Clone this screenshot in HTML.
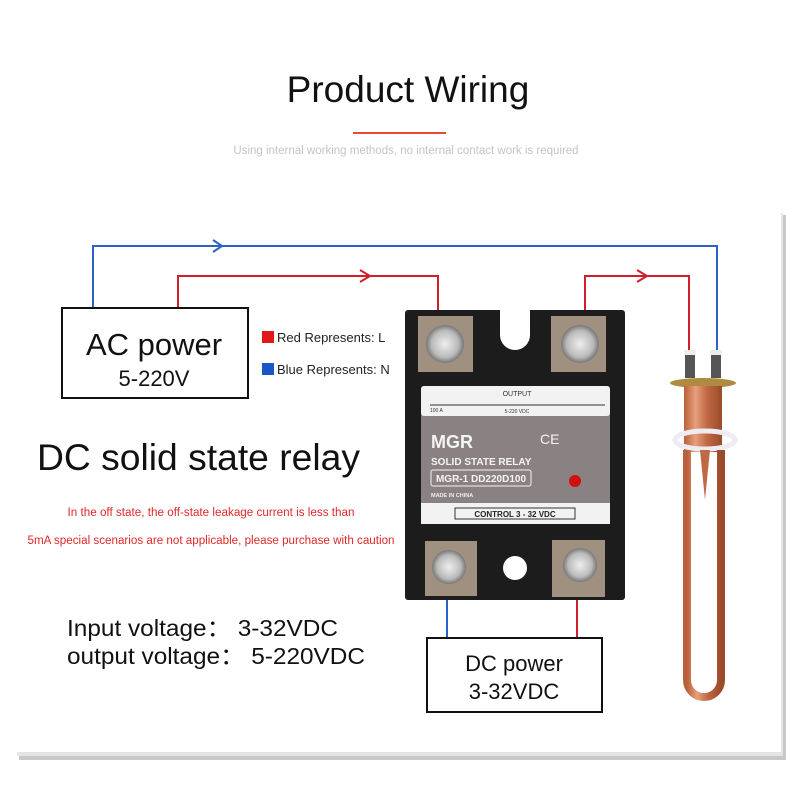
<!DOCTYPE html>
<html><head><meta charset="utf-8"><style>
html,body{margin:0;padding:0;background:#fff;width:800px;height:800px;overflow:hidden}
svg{display:block}
</style></head><body>
<svg width="800" height="800" viewBox="0 0 800 800" xmlns="http://www.w3.org/2000/svg" font-family="Liberation Sans, sans-serif">
<defs>
<linearGradient id="cu" x1="0" x2="1">
<stop offset="0" stop-color="#b8603a"/><stop offset="0.3" stop-color="#e7a07a"/><stop offset="0.6" stop-color="#c06a45"/><stop offset="1" stop-color="#9a4a2a"/>
</linearGradient>
<radialGradient id="screw"><stop offset="0" stop-color="#eee"/><stop offset="0.7" stop-color="#bbb"/><stop offset="1" stop-color="#777"/></radialGradient>
</defs>
<rect x="19" y="215" width="767" height="545" fill="#c8c8c8"/>
<rect x="17" y="213" width="766" height="543" fill="#e4e4e4"/>
<rect x="16" y="211" width="765" height="541" fill="#fff"/>

<text x="408" y="102" font-size="37" text-anchor="middle" fill="#111">Product Wiring</text>
<rect x="353" y="132" width="93" height="2" fill="#e84a3a"/>
<text x="406" y="154" font-size="11.5" text-anchor="middle" fill="#c4c4c4">Using internal working methods, no internal contact work is required</text>

<g fill="none" stroke-width="2">
<polyline points="93,308 93,246 717,246 717,352" stroke="#2a62c8"/>
<polyline points="213,240 222,246 213,252" stroke="#2a62c8"/>
<polyline points="178,308 178,276 438,276 438,345" stroke="#d01f2a"/>
<polyline points="360,270 370,276 360,282" stroke="#d01f2a"/>
<polyline points="585,345 585,276 689,276 689,352" stroke="#d01f2a"/>
<polyline points="637,270 647,276 637,282" stroke="#d01f2a"/>
<polyline points="447,560 447,640" stroke="#2a62c8"/>
<polyline points="577,560 577,640" stroke="#d01f2a"/>
</g>

<rect x="62" y="308" width="186" height="90" fill="#fff" stroke="#111" stroke-width="2"/>
<text x="154" y="355" font-size="31" text-anchor="middle" fill="#111">AC power</text>
<text x="154" y="386" font-size="22" text-anchor="middle" fill="#111">5-220V</text>

<rect x="262" y="331" width="12" height="12" fill="#e01818"/>
<text x="277" y="342" font-size="13" fill="#222">Red Represents: L</text>
<rect x="262" y="363" width="12" height="12" fill="#1a56c8"/>
<text x="277" y="374" font-size="13" fill="#222">Blue Represents: N</text>

<text x="37" y="470" font-size="37" fill="#111" textLength="323" lengthAdjust="spacingAndGlyphs">DC solid state relay</text>
<text x="211" y="516" font-size="11.5" text-anchor="middle" fill="#e02828" textLength="287" lengthAdjust="spacingAndGlyphs">In the off state, the off-state leakage current is less than</text>
<text x="211" y="544" font-size="11.5" text-anchor="middle" fill="#e02828" textLength="367" lengthAdjust="spacingAndGlyphs">5mA special scenarios are not applicable, please purchase with caution</text>

<text x="67" y="636" font-size="23" fill="#111" textLength="271" lengthAdjust="spacingAndGlyphs">Input voltage： 3-32VDC</text>
<text x="67" y="664" font-size="23" fill="#111" textLength="298" lengthAdjust="spacingAndGlyphs">output voltage： 5-220VDC</text>

<rect x="405" y="310" width="220" height="290" rx="3" fill="#1c1c1c"/>
<path d="M500 310 h30 v25 a15 15 0 0 1 -30 0z" fill="#fff"/>
<circle cx="515" cy="568" r="12" fill="#fff"/>
<g>
<rect x="418" y="316" width="55" height="56" fill="#a09080"/>
<circle cx="445" cy="344" r="19" fill="url(#screw)"/>
<rect x="551" y="316" width="55" height="56" fill="#a09080"/>
<circle cx="580" cy="344" r="19" fill="url(#screw)"/>
<rect x="425" y="541" width="52" height="55" fill="#a09080"/>
<circle cx="449" cy="567" r="17" fill="url(#screw)"/>
<rect x="552" y="540" width="53" height="57" fill="#a09080"/>
<circle cx="580" cy="565" r="17" fill="url(#screw)"/>
</g>
<rect x="421" y="386" width="189" height="138" rx="3" fill="#8a8282"/>
<rect x="421" y="386" width="189" height="30" rx="3" fill="#f2f2f2"/>
<rect x="421" y="503" width="189" height="21" fill="#f2f2f2"/>
<text x="517" y="396" font-size="7" text-anchor="middle" fill="#333">OUTPUT</text>
<line x1="430" y1="405" x2="605" y2="405" stroke="#333"/>
<text x="430" y="412" font-size="5" fill="#333">100 A</text>
<text x="517" y="413" font-size="5" text-anchor="middle" fill="#333">5-220 VDC</text>
<text x="431" y="448" font-size="18" font-weight="bold" fill="#f4f4f4">MGR</text>
<text x="540" y="444" font-size="14" fill="#f4f4f4">CE</text>
<text x="431" y="465" font-size="10" font-weight="bold" fill="#f4f4f4">SOLID STATE RELAY</text>
<rect x="431" y="470" width="100" height="16" rx="2" fill="none" stroke="#f4f4f4"/>
<text x="481" y="482" font-size="10" font-weight="bold" text-anchor="middle" fill="#f4f4f4">MGR-1  DD220D100</text>
<text x="431" y="497" font-size="5.5" font-weight="bold" fill="#eee">MADE IN CHINA</text>
<circle cx="575" cy="481" r="6" fill="#d01010"/>
<rect x="455" y="508" width="120" height="11" fill="none" stroke="#333"/>
<text x="515" y="517" font-size="8" font-weight="bold" text-anchor="middle" fill="#222">CONTROL 3 - 32 VDC</text>

<rect x="427" y="638" width="175" height="74" fill="#fff" stroke="#111" stroke-width="2"/>
<text x="514" y="671" font-size="22" text-anchor="middle" fill="#111">DC power</text>
<text x="514" y="699" font-size="22" text-anchor="middle" fill="#111">3-32VDC</text>

<rect x="685" y="352" width="10" height="26" fill="#555"/>
<rect x="711" y="352" width="10" height="26" fill="#555"/>
<rect x="684" y="350" width="12" height="5" fill="#eee"/>
<rect x="710" y="350" width="12" height="5" fill="#eee"/>
<ellipse cx="703" cy="383" rx="33" ry="5" fill="#b08a40"/>
<rect x="684" y="386" width="38" height="66" fill="url(#cu)"/>
<ellipse cx="705" cy="440" rx="30" ry="9" fill="none" stroke="#ececf2" stroke-width="5"/>
<path d="M687 450 v230 a17 17 0 0 0 34 0 v-230" fill="none" stroke="url(#cu)" stroke-width="8"/>
<path d="M700 450 l5 50 l5 -50z" fill="#c06a45"/>
</svg>
</body></html>
